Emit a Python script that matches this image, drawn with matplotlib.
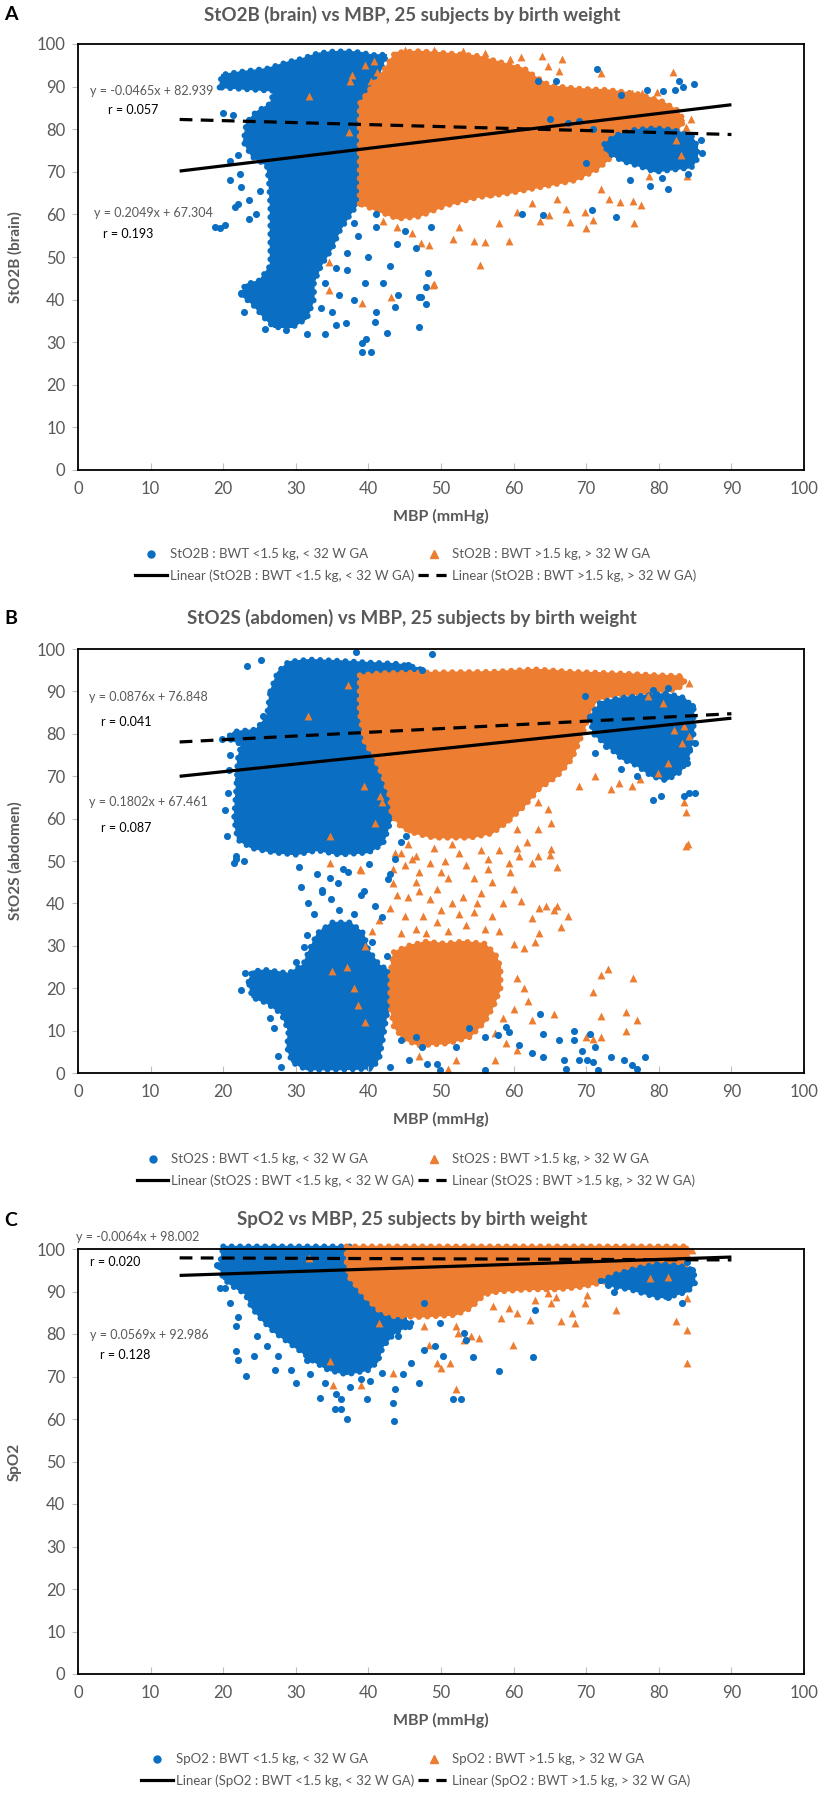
import matplotlib
matplotlib.use('Agg')  # no display
import numpy as np
import matplotlib.pyplot as plt
from matplotlib.patches import Polygon
from matplotlib.lines import Line2D

plt.rcParams['font.family'] = ['Lato', 'DejaVu Sans']

BLUE = '#0a6fc2'
ORANGE = '#ed7d31'
GREY = '#595959'

# ---------------- panel A : StO2B (brain) ----------------
# dense parts of the clouds, outlined as (MBP, StO2B) envelopes
a_blue_body = [(19.5, 89.8), (19.8, 92.8), (23, 93.6), (26, 94.2), (29, 95.8), (31, 96.6), (33, 97.8),
               (35, 98.2), (37, 98.3), (39, 98), (40.5, 97.4), (42.5, 97.5), (41.5, 93), (40, 89),
               (38.8, 86), (38.8, 63), (37.5, 60), (36, 56), (35, 52), (33.5, 48), (32.5, 44),
               (32.5, 40), (31.5, 35.5), (29.5, 33.5), (27, 33.5), (25.5, 36), (24, 39), (22.5, 41),
               (23, 43.5), (25, 44.5), (26.5, 48), (26.5, 55), (26.5, 62), (26.3, 68), (26, 71.5),
               (24, 73.5), (22.8, 77), (23.2, 81.5), (24.5, 84), (26.5, 86), (27, 89), (24, 89.3)]
a_orange_body = [(38.8, 62.5), (38.8, 86), (40.5, 90), (42, 93.5), (43.7, 98), (47, 98.3), (51, 97.8),
                 (55, 97.2), (58, 95.8), (61.5, 94.2), (63, 92.3), (65, 90.2), (69, 89.5), (73, 89.2),
                 (77, 88.3), (80.5, 86.5), (82.5, 84.5), (83.5, 82), (82.5, 79.5), (80, 79), (77.5, 77.5),
                 (75.5, 76), (73.5, 73.5), (71.5, 70.5), (68.5, 68), (64, 66.5), (59.5, 65), (55, 64),
                 (50.5, 62), (47, 59.5), (44, 59), (41, 61)]
a_blue_right = [(72.5, 76.5), (74, 78.5), (76.5, 79.8), (79.5, 80.2), (82, 79.8), (84.5, 78.5), (85.3, 76),
                (85.3, 73), (84.5, 71), (82, 70.5), (79.5, 70), (77, 71.5), (75, 72.5), (73, 74.5)]
a_blue_pts = [(20, 83.9), (21.4, 83.4), (18.9, 57), (19.5, 56.7), (20.3, 57.5), (22.3, 69.6), (20.9, 68),
              (21.6, 61.8), (23.6, 63.4), (22.5, 66.5), (21, 72.5), (22, 74), (24.5, 60), (25, 65.5),
              (23.5, 59), (22, 62.5), (39.1, 27.8), (40.4, 27.8),
              (39.1, 29.7), (39.7, 30.7), (42.5, 32.2), (47, 33.6), (47.9, 39), (47, 40.7), (43.6, 38.3),
              (31.5, 32), (34, 32), (35.5, 34), (36.9, 34.4), (40.9, 34.8), (41.1, 37.2), (44.1, 41.1),
              (22.9, 37.2), (22.5, 41.5), (25.7, 33), (28.6, 32.9), (38, 40), (39.5, 44), (36, 41),
              (42, 44), (37, 47), (40, 50), (43, 48), (38.5, 55), (41, 57), (44, 53), (36.5, 60),
              (41, 60), (48.2, 46.2), (48, 43), (47.2, 40.7), (46.6, 52), (48.6, 57.1), (45, 56),
              (34, 44), (35.5, 47.5), (37, 51), (38, 58), (33.5, 38), (35, 37),
              (71.5, 94.1), (63.3, 91.2), (65.8, 91.2), (78.4, 89.3), (80.6, 88.9), (82.2, 89.3),
              (82.8, 91.2), (83.3, 89.8), (84.8, 90.5), (74.8, 88), (61.2, 60), (64.1, 59.9), (70.8, 61),
              (74.1, 59.4), (81.3, 66), (78.8, 66.6), (76, 68), (80.5, 68.5), (84, 69.5), (86, 74.5),
              (85.8, 77.5), (70, 72), (71, 80), (69, 82), (67.5, 81.5), (65, 82.5)]
a_orange_pts = [(31.8, 87.8), (37.4, 91.2), (37.8, 92.8), (40.3, 91.2), (41.2, 93.5), (37.3, 79.4),
                (34.6, 48.9), (34.6, 42.3), (39.1, 39.3), (43.1, 40.5), (48.9, 43.4), (63.9, 97.1),
                (66.7, 96.5), (64.7, 94.9), (66.2, 93.7), (72.1, 93.1), (81.9, 93.4), (76.3, 88.5),
                (77.7, 88.5), (79.7, 88.8), (83.9, 69), (82.4, 77.5), (83.1, 74), (78.6, 69), (73.2, 63.5),
                (74.7, 62.8), (76.5, 63.1), (77.5, 62.3), (76.6, 58), (69.9, 60.5), (70.9, 58.7), (70, 56.7),
                (67.8, 58.3), (67.2, 61.2), (63.6, 58.4), (64.9, 59.8), (59.4, 53.8), (58, 58), (55.4, 48.1),
                (56, 53.6), (54.5, 53.8), (51.6, 54.2), (49, 43.6), (46, 55.6), (47.3, 53.4), (48.4, 52.8),
                (62.5, 62.6), (56.7, 65), (44, 57), (42, 58.5), (52.5, 57), (60.5, 60.5), (66, 63.5),
                (72, 66), (45, 98.5), (49, 98.7), (53, 98.3), (56, 97.8), (59.5, 96.5), (61, 97),
                (83.7, 80.5), (84.5, 82.3), (39.5, 95), (40.8, 96)]
a_fit_blue = (0.2049, 67.304, 0.193)     # slope, intercept, r
a_fit_orange = (-0.0465, 82.939, 0.057)

# ---------------- panel B : StO2S (abdomen) ----------------
b_blue_body = [(26.5, 90), (27.5, 94.5), (29, 97), (32, 97.5), (36, 97.2), (40, 96.8), (44, 96.5), (47, 95.5),
               (47.5, 94.6), (43, 94), (40.3, 93.5), (39.6, 88), (40.3, 80), (41.8, 74), (43, 67),
               (43.2, 60), (42, 54), (40, 52), (36, 51.5), (33, 52.5), (30, 51.5), (27, 52), (24, 53),
               (22, 55), (21.5, 60), (21.8, 67), (22, 74), (22.5, 77.5), (20.5, 79), (21.5, 80.5),
               (24.5, 81), (26, 84)]
b_blue_low = [(23.5, 21.5), (24, 24), (26, 24.3), (29, 23.5), (31, 25.5), (32, 29.5), (33, 33),
              (35, 35.5), (37.5, 35.5), (39.3, 33), (40, 29), (41.5, 25.5), (43.5, 23.5), (44.5, 21),
              (43.5, 17), (42.5, 13.5), (42, 8), (41.5, 3.5), (40.5, 1), (36, 0.8), (31.5, 0.8), (29.5, 2.5),
              (28.8, 6), (29, 10), (28, 14), (26, 16.5), (24, 17.8)]
b_orange_body = [(38.8, 93.8), (42, 94.3), (50, 94.5), (57, 94.6), (63, 95.2), (68, 94.6), (75, 94.2),
                 (80, 93.8), (83.2, 93.6), (83.6, 92), (82.5, 90.5), (78, 89.5), (74, 89), (71.5, 88),
                 (70.5, 85), (69.5, 80), (68, 74), (66, 70), (63.5, 67), (61.5, 63), (59, 59), (57, 56.5),
                 (54, 55.5), (49, 55.5), (46.5, 56.5), (44.5, 58), (43.2, 61), (43, 65),
                 (42, 70), (40.7, 75), (39.5, 78), (38.8, 85)]
b_orange_low = [(43.5, 28.5), (45.5, 30), (48, 31), (50.5, 30.5), (53, 31), (56, 30.5), (57.5, 28),
                (58.2, 25), (58.2, 20), (57.3, 16), (56, 12), (54, 8.5), (51, 7), (47, 6.5), (44.8, 8),
                (43.5, 11), (43, 16), (43, 22), (43.2, 26)]
b_blue_right = [(70.5, 84), (72, 87.5), (75, 88.5), (78, 89), (81, 89.5), (83.5, 88.5), (84.8, 86),
                (84.8, 80), (84.2, 75), (83, 71), (81, 69), (79, 70), (77, 72.5), (75, 74), (73, 77),
                (71, 80)]
b_blue_pts = [(23.3, 96.1), (25.2, 97.3), (38.3, 99.3), (48.8, 98.8), (45.4, 96.3), (47.4, 95.1),
              (25.5, 84.2), (26, 82.6), (19.9, 78.7), (22, 69.3), (21.5, 49.6), (21.7, 51.2), (22.9, 50),
              (20.5, 56), (20.3, 62), (20.6, 66), (20.8, 71.5), (21, 75),
              (30.4, 48.5), (30.7, 43.8), (31.7, 40.2), (33.6, 42.6), (35.8, 44.9), (37.2, 47.3),
              (39.4, 43), (42.7, 45.7), (43.7, 50.4), (44.5, 54.4), (45.2, 55.9), (79.2, 64.5),
              (80.3, 65.3), (83.5, 65.3), (84.2, 66), (85, 66.1), (83.9, 73.2), (84.2, 76.3), (85, 77.9),
              (84.6, 86.5), (79.2, 90.4), (81.3, 90.8), (69.8, 88.9), (72.7, 77.1), (71.2, 75.5),
              (74.8, 71.6), (77, 70), (21.7, 50.5), (34.7, 46), (33.6, 43.1), (34.9, 41.1), (39, 41.9),
              (40.9, 39.5), (41.9, 36.8), (43, 47), (40.1, 49.4), (36.5, 48.2), (32.9, 47), (31.5, 32.5),
              (34, 34), (36.5, 34.4), (38.5, 32.9), (31.1, 29.7), (30, 26.2), (46.6, 8.5), (47.4, 6.1),
              (49.5, 2.2), (52.1, 6.1), (53.9, 10.5), (56, 8.5), (57.8, 8.9), (58.9, 10.8), (59.3, 9.7),
              (60.7, 6.5), (62.5, 4.6), (64, 3.8), (63.6, 14), (64, 9.3), (66.2, 7.7), (66.9, 3),
              (67.2, 1), (68.3, 7.7), (69, 3), (69.4, 5.1), (70.1, 3), (70.9, 2.6), (71.6, 0.6),
              (73.4, 3.8), (75.2, 3), (76.3, 1.8), (77, 1), (78.1, 3.8), (70.5, 9.3), (71.2, 6.1),
              (68.3, 10), (56, 0.6), (49.9, 0.6), (48.1, 2.2), (44.5, 7.7), (45.6, 3), (43, 1.4),
              (27.5, 4), (28, 1.5), (27, 10.5), (26.5, 13), (22.5, 19.5), (23, 23.5), (32.5, 37.5),
              (36, 38.5), (38, 37.5), (40.5, 31), (42.5, 27.5)]
b_orange_pts = [(31.7, 84.2), (37.2, 91.6), (40.1, 84.5), (39.4, 67.7), (41.6, 65.3), (41.9, 63.8),
                (40.9, 59), (34.7, 55.9), (34.7, 49.6), (38.9, 48), (43.7, 52), (45.9, 57.5), (46.6, 51.2),
                (58.9, 59.8), (60.4, 57.5), (61.8, 66.9), (63.3, 63.8), (64.7, 62.2), (65.1, 59),
                (63.3, 57.5), (61.8, 54.4), (60.7, 51.2), (59.3, 49.6), (63.3, 51.2), (65.1, 52.8),
                (69, 67.7), (71.2, 70), (73.4, 66.9), (74.5, 68.5), (76.3, 67.7), (77.4, 69.3), (79.9, 70.8),
                (81.3, 73.2), (83.2, 77.9), (83.5, 63.8), (83.7, 61.6), (83.7, 53.6), (84.2, 92),
                (78.5, 88.9), (80.6, 87.3), (82.1, 81), (83.5, 81.8), (84.2, 79.4),
                (39, 47.8), (43.4, 44.7), (43.4, 48), (45, 49), (46, 50.5), (44.5, 52), (56.5, 50.5),
                (58, 52.5), (60.5, 53), (62.5, 49.5), (65, 51.5), (66, 48.5), (59.5, 47.5), (57, 45),
                (60, 43.5), (61, 40.5), (58.5, 40), (55.5, 42.5), (54.5, 38), (62.5, 36.5), (63.5, 39),
                (64.5, 39.5), (65.5, 38.5), (66, 39.5), (67.5, 37), (66.5, 34.5), (63.5, 33), (63, 31),
                (61.5, 29.5), (60, 30.5), (58, 33.5), (57, 37), (45, 37), (43, 39), (41.5, 36), (40.5, 33.5),
                (39.5, 30), (60.5, 22.5), (61.5, 20), (62, 17), (60, 15), (58.5, 13), (62.5, 12.5),
                (65.5, 14), (57.5, 9.5), (59, 7), (60.5, 5.5), (57.5, 3), (51, 1), (52, 3), (47, 4),
                (73, 24.5), (72, 23), (76.5, 22.5), (71, 19), (75.5, 14.5), (72, 13.5), (77, 12.5),
                (70, 8.5), (71, 8), (72, 8.5), (75.5, 10), (84, 54), (38, 20), (38.5, 16), (39.5, 12),
                (37, 25), (35, 24), (46.5, 34), (45.5, 41.5), (46.5, 45), (53.5, 35), (53, 41.5), (54.5, 46),
                (53.5, 49), (55.5, 52.5), (52.5, 52), (47, 47.5), (44.5, 33), (56, 34),
                (48, 33), (49.5, 35.5), (51, 33.5), (50, 38.5), (48.5, 41), (51.5, 40), (49.5, 43.5),
                (51, 46), (48.5, 49.5), (50.5, 50), (49, 53), (51.5, 54), (47.5, 37), (52.5, 37.5),
                (50, 47.5), (44, 42), (55, 40), (56.5, 48), (45.5, 54), (47, 43)]
b_fit_blue = (0.1802, 67.461, 0.087)
b_fit_orange = (0.0876, 76.848, 0.041)

# ---------------- panel C : SpO2 ----------------
c_blue_body = [(20, 100.6), (37.5, 100.6), (37.5, 95), (39, 90), (41, 86), (44.5, 84), (46, 82.5),
               (43.5, 80), (42, 77), (41.3, 73.5), (40, 71.5), (37, 70.5), (34.5, 71.5), (32.5, 73.5),
               (31, 75.5), (29, 78), (27, 80.5), (25.5, 83), (24, 86), (23, 89.5), (21.5, 91), (20, 93),
               (19.5, 96)]
c_orange_body = [(37, 100.6), (84, 100.6), (84.2, 98), (83.5, 95.5), (82, 94), (78, 93.8), (75, 93.5),
                 (72, 92), (69, 91), (66, 90.5), (62, 90.5), (58, 90), (56, 89.3), (54, 86), (52, 84.5),
                 (47, 84), (43.5, 84.2), (41.5, 85.5), (40, 88), (38.5, 91), (37.3, 93.5), (37, 97)]
c_blue_right = [(72, 92.5), (74, 94), (77, 95.5), (80, 96.5), (83, 96), (84.8, 95), (85, 92), (84, 90),
                (82, 89), (80, 88.5), (78, 89.5), (76, 90.5), (74, 91)]
c_blue_pts = [(19.2, 96.3), (19.5, 90.8), (20.2, 90.8), (21, 87.3), (22, 84.1), (21.7, 81.8), (21.7, 75.9),
              (22, 74), (23.1, 70.1), (24.2, 74.8), (24.6, 79.5), (26, 77.1), (27.5, 74.8), (27.1, 71.6),
              (29.3, 71.6), (30, 68.5), (31.5, 74), (33.3, 65), (35.4, 62.3), (36.2, 62.4), (37.1, 59.9),
              (36.2, 64.6), (39.8, 64.6), (40.2, 68.9), (41.9, 70.9), (43.7, 67), (43.5, 59.5),
              (43.4, 63.8), (44.8, 70.5), (45.9, 73.2), (47, 68.5), (47.7, 76.3), (49.2, 77.1),
              (50.3, 74.8), (51.7, 64.6), (52.8, 64.6), (53.1, 80.2), (53.5, 78.7), (54.4, 74.5),
              (58, 71.3), (62.9, 85.7), (62.7, 74.5), (31.8, 77.1), (40.5, 77.9), (44.1, 79.5),
              (45.6, 81.8), (49.9, 82.6), (47.7, 87.3), (79.5, 89.6), (81.3, 88.8), (83.2, 87.3),
              (84.2, 92.3), (84.6, 95.1), (83.9, 97), (73, 91.6), (73.8, 90), (34, 68.5), (37.5, 67.5),
              (39, 69.5), (32, 70.5), (35.5, 66)]
c_orange_pts = [(31.8, 97.8), (34.7, 73.6), (35.1, 68.1), (39, 68.1), (43.4, 70.9), (41.4, 82.6),
                (47.7, 81.8), (48.3, 77.5), (49.5, 73.2), (50, 72), (51.3, 73.2), (52.1, 81.8), (52.4, 80.2),
                (53.1, 78.7), (54.1, 79.5), (55.3, 79.1), (52.1, 67), (57.1, 86.5), (58.2, 83.8),
                (59.3, 86.1), (59.9, 77.5), (60.4, 84.9), (62.2, 83.4), (62.9, 88), (64.7, 89.6),
                (65.1, 87.3), (65.8, 88.8), (68, 84.9), (68.5, 82.6), (66.5, 83), (69.8, 87.3), (70.1, 89.2),
                (74.1, 85.7), (78.8, 93.1), (81.3, 93.5), (83.9, 88.4), (82.4, 83), (83.9, 81), (83.9, 73.2),
                (84.6, 99.8)]
c_fit_blue = (0.0569, 92.986, 0.128)
c_fit_orange = (-0.0064, 98.002, 0.020)

fit_x = np.array([14, 90])   # Excel trendlines span the data range

panels = [
    dict(letter='A', title='StO2B (brain) vs MBP, 25 subjects by birth weight', ylabel='StO2B (brain)',
         tag='StO2B', blue_polys=[a_blue_body], orange_polys=[a_orange_body], blue_top=[a_blue_right],
         blue_pts=a_blue_pts, orange_pts=a_orange_pts, fit_blue=a_fit_blue, fit_orange=a_fit_orange,
         eq_pos=[(1.6, 89), (4.1, 84.5), (2.2, 60.3), (3.5, 55.4)]),
    dict(letter='B', title='StO2S (abdomen) vs MBP, 25 subjects by birth weight', ylabel='StO2S (abdomen)',
         tag='StO2S', blue_polys=[b_blue_body, b_blue_low], orange_polys=[b_orange_body, b_orange_low],
         blue_top=[b_blue_right], blue_pts=b_blue_pts, orange_pts=b_orange_pts,
         fit_blue=b_fit_blue, fit_orange=b_fit_orange,
         eq_pos=[(1.5, 88.7), (3.2, 82.7), (1.5, 63.8), (3.2, 57.9)]),
    dict(letter='C', title='SpO2 vs MBP, 25 subjects by birth weight', ylabel='SpO2',
         tag='SpO2', blue_polys=[c_blue_body], orange_polys=[c_orange_body], blue_top=[c_blue_right],
         blue_pts=c_blue_pts, orange_pts=c_orange_pts, fit_blue=c_fit_blue, fit_orange=c_fit_orange,
         eq_pos=[(-0.3, 102.9), (1.7, 97), (1.6, 79.8), (3, 75)]),
]

W, H = 824, 1796
fig = plt.figure(figsize=(W / 100, H / 100), dpi=100)

# pixel rows of each panel: axes top, axes bottom, title, legend centre
rows = [(44, 470, 15, 565), (649, 1073, 618, 1170), (1249, 1674, 1220, 1770)]
left_px, right_px = 78, 804


def add_cloud(ax, pts, color, z):
    # filled core plus a chain of round dots on the outline so the edge looks like markers
    ax.add_patch(Polygon(pts, closed=True, facecolor=color, edgecolor=color, lw=1,
                         zorder=z, clip_on=False))
    ax.add_patch(Polygon(pts, closed=True, fill=False, edgecolor=color, lw=4.3,
                         linestyle=(0, (0.01, 1.4)), capstyle='round', zorder=z, clip_on=False))


for p, (top, bot, ty, ly) in zip(panels, rows):
    ax = fig.add_axes([left_px / W, 1 - bot / H, (right_px - left_px) / W, (bot - top) / H])

    for poly in p['blue_polys']:
        add_cloud(ax, poly, BLUE, 1)
    for poly in p['orange_polys']:
        add_cloud(ax, poly, ORANGE, 2)
    for poly in p['blue_top']:
        add_cloud(ax, poly, BLUE, 3)
    ox, oy = zip(*p['orange_pts'])
    ax.scatter(ox, oy, s=32, marker='^', color=ORANGE, linewidths=0, zorder=3)
    bx, by = zip(*p['blue_pts'])
    ax.scatter(bx, by, s=26, marker='o', color=BLUE, linewidths=0, zorder=4)

    sb, ib, rb = p['fit_blue']
    so, io, ro = p['fit_orange']
    ax.plot(fit_x, sb * fit_x + ib, color='black', lw=2.3, zorder=6, solid_capstyle='butt')
    ax.plot(fit_x, so * fit_x + io, color='black', lw=2.3, zorder=6, dashes=(4, 2.6))

    e = p['eq_pos']
    sign = '-' if so < 0 else ''
    ax.text(e[0][0], e[0][1], f'y = {sign}{abs(so):.4f}x + {io:.3f}', color=GREY, fontsize=9,
            va='center', zorder=7)
    ax.text(e[1][0], e[1][1], f'r = {ro:.3f}', color='black', fontsize=9, va='center', zorder=7)
    ax.text(e[2][0], e[2][1], f'y = {sb:.4f}x + {ib:.3f}', color=GREY, fontsize=9, va='center', zorder=7)
    ax.text(e[3][0], e[3][1], f'r = {rb:.3f}', color='black', fontsize=9, va='center', zorder=7)

    ax.set_xlim(0, 100)
    ax.set_ylim(0, 100)
    ax.set_xticks(range(0, 101, 10))
    ax.set_yticks(range(0, 101, 10))
    ax.tick_params(axis='x', direction='in', length=5, color='#bfbfbf', labelcolor=GREY,
                   labelsize=12, pad=8)
    ax.tick_params(axis='y', direction='out', length=4, color='#bfbfbf', labelcolor=GREY,
                   labelsize=12, pad=5)
    for s in ax.spines.values():
        s.set_linewidth(1.3)
        s.set_color('black')
        s.set_zorder(8)

    ax.set_xlabel('MBP (mmHg)', fontsize=11.5, fontweight='bold', color=GREY)
    ax.xaxis.set_label_coords(0.5, -0.092)
    ax.set_ylabel(p['ylabel'], fontsize=11, fontweight='bold', color=GREY)
    ax.yaxis.set_label_coords(-0.077, 0.5)

    fig.text(0.5, 1 - ty / H, p['title'], ha='center', va='center', fontsize=13.5,
             fontweight='bold', color=GREY)
    fig.text(11 / W, 1 - ty / H, p['letter'], ha='center', va='center', fontsize=14,
             fontweight='bold', color='black')

    t = p['tag']
    handles = [Line2D([], [], ls='none', marker='o', ms=5, color=BLUE),
               Line2D([], [], color='black', lw=2.3),
               Line2D([], [], ls='none', marker='^', ms=6, color=ORANGE),
               Line2D([], [], color='black', lw=2.3, dashes=(3.2, 2.4))]
    labels = [f'{t} : BWT <1.5 kg, < 32 W GA',
              f'Linear ({t} : BWT <1.5 kg, < 32 W GA)',
              f'{t} : BWT >1.5 kg, > 32 W GA',
              f'Linear ({t} : BWT >1.5 kg, > 32 W GA)']
    fig.legend(handles, labels, ncol=2, loc='center', bbox_to_anchor=(416 / W, 1 - ly / H),
               frameon=False, fontsize=9.5, labelcolor=GREY, handlelength=2.4,
               handletextpad=0.2, columnspacing=0.3, labelspacing=0.65)

fig.savefig('out.png', dpi=100)
